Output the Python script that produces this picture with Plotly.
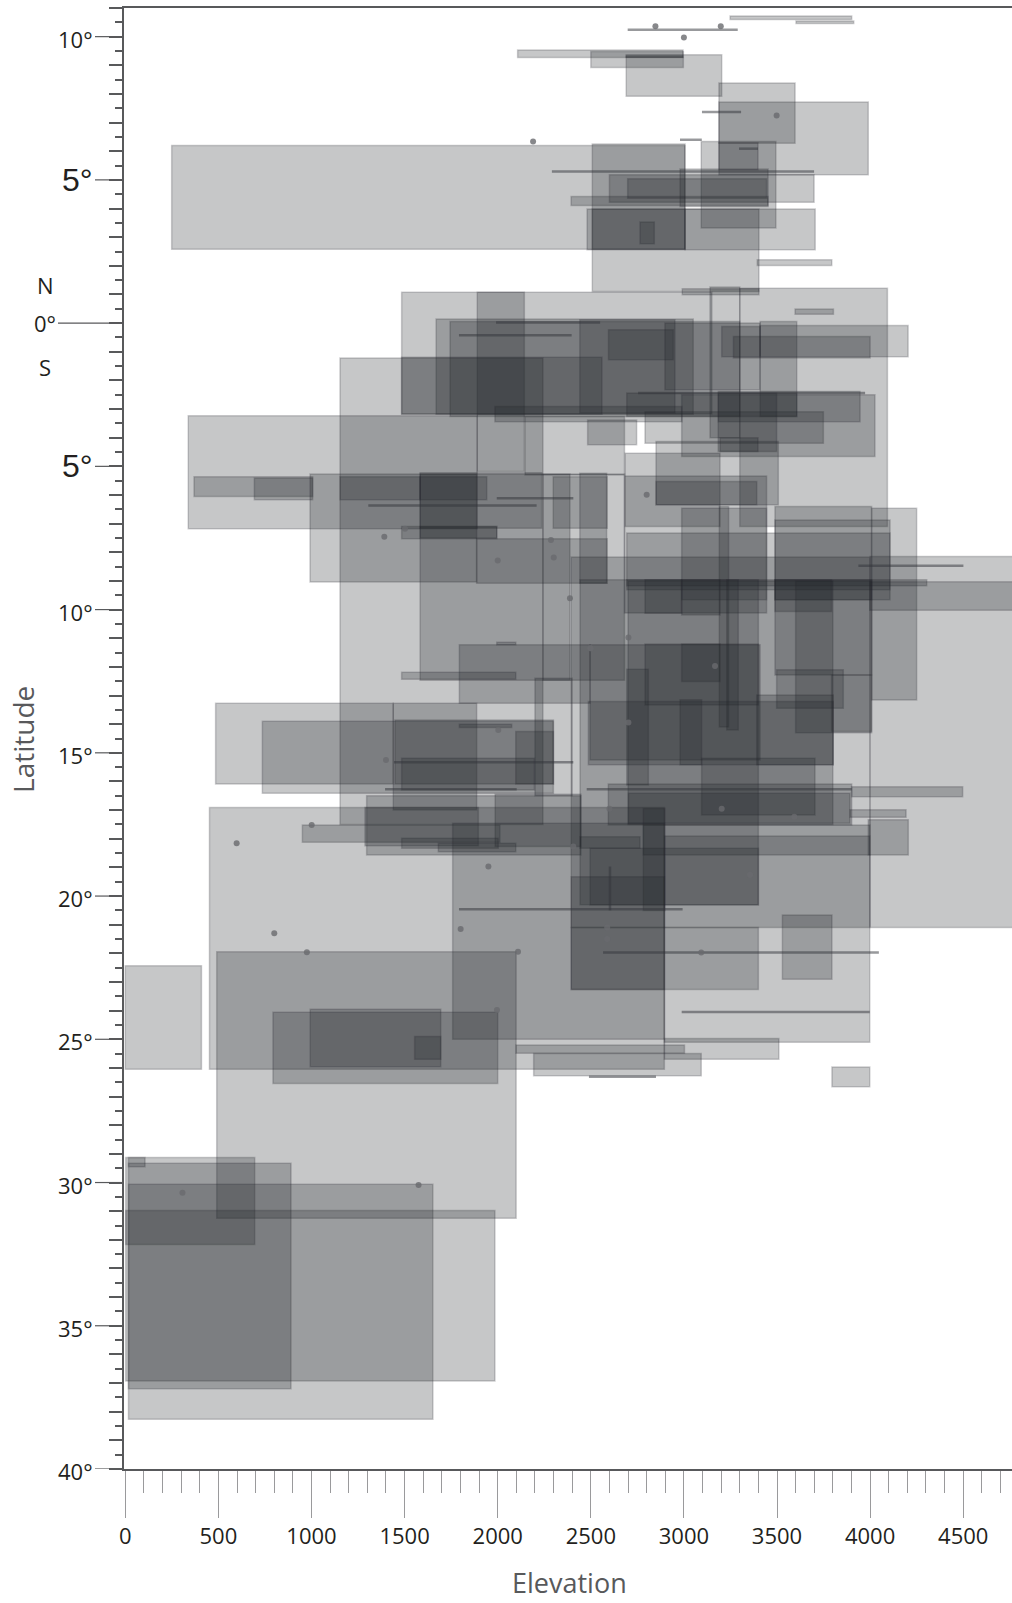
import plotly.graph_objects as go

# Elevation range (m) and latitude range (deg, north positive) of each record:
# (elev_min, elev_max, lat_north, lat_south)
north_ranges = [
    (3248, 3901, 10.72, 10.60), (3602, 3912, 10.55, 10.46),
    (2107, 2995, 9.53, 9.27), (2500, 2997, 9.48, 8.92), (2690, 3203, 9.37, 7.92),
    (3188, 3597, 8.38, 6.28), (3188, 3990, 7.72, 5.18),
    (249, 3006, 6.20, 2.58), (2508, 3006, 6.25, 2.58), (3093, 3494, 6.34, 3.32),
    (3188, 3398, 6.30, 5.35), (2600, 3699, 5.18, 4.22), (2698, 3444, 5.04, 4.36),
    (2979, 3452, 5.38, 4.07), (2394, 3452, 4.42, 4.11), (2480, 3006, 3.98, 2.56),
    (2764, 2841, 3.53, 2.77), (2508, 3403, 3.98, 1.10), (3006, 3705, 3.98, 2.56),
    (3394, 3794, 2.21, 2.01), (2991, 3403, 1.20, 0.99),
]

equator_ranges = [
    (1484, 3150, 1.08, -3.17), (3300, 4093, 1.22, -7.10), (3140, 3300, 1.26, -4.00),
    (1890, 2143, 1.08, -5.18), (1669, 3050, 0.14, -3.18), (1744, 3300, 0.06, -3.26),
    (3597, 3803, 0.49, 0.31), (2441, 2952, 0.12, -3.14), (2595, 2943, -0.23, -1.28),
    (2898, 3409, 0.00, -2.33), (3409, 3606, 0.06, -3.26), (3266, 4000, -0.47, -1.22),
    (3409, 4204, -0.08, -1.17), (3203, 3409, -0.12, -1.17), (1484, 2560, -1.19, -3.18),
    (1985, 2990, -2.91, -3.44), (2147, 2681, -3.26, -5.30), (2483, 2746, -3.38, -4.25),
    (2791, 3749, -3.09, -4.19), (2988, 4026, -2.50, -4.66), (3185, 3946, -2.39, -3.44),
    (2693, 3606, -2.44, -3.26), (3184, 3498, -2.44, -4.48), (3194, 3398, -4.00, -4.48),
]

central_ranges = [
    (1153, 2243, -1.22, -17.50), (338, 1890, -3.23, -7.18), (369, 1006, -5.36, -6.05),
    (693, 1006, -5.41, -6.17), (1583, 2236, -5.22, -7.16), (1153, 1583, -5.36, -6.17),
    (1583, 1941, -5.36, -6.17), (2298, 2588, -5.36, -7.16), (1484, 1995, -7.10, -7.53),
    (1583, 1995, -7.10, -7.50), (1887, 2588, -7.53, -9.08), (992, 1887, -5.27, -9.04),
    (1583, 2681, -5.27, -12.47), (2243, 2388, -5.27, -12.47), (2681, 3444, -5.34, -10.12),
    (2200, 2400, -12.40, -16.50),
    (2684, 3194, -4.54, -7.10), (2850, 3507, -4.13, -6.34), (2850, 3391, -5.53, -6.34),
    (2441, 2585, -5.24, -9.08), (2988, 3444, -6.46, -9.66), (3489, 4008, -6.40, -9.66),
    (4008, 4250, -6.46, -13.16), (3489, 4107, -6.87, -9.66), (2693, 4107, -7.33, -9.31),
    (2693, 4304, -8.96, -9.17), (4000, 4800, -8.15, -21.10), (3998, 4800, -9.03, -10.02),
    (3190, 3240, -6.40, -14.10), (2395, 3998, -8.16, -21.10), (2700, 3800, -9.00, -17.50),
    (2442, 3400, -8.96, -20.30), (3600, 4008, -9.00, -14.30),
    (1794, 2496, -11.23, -13.27), (1484, 2097, -12.19, -12.43), (1995, 2097, -11.14, -11.23),
    (485, 1439, -13.27, -16.09), (736, 2299, -13.90, -16.41), (1439, 1887, -13.27, -17.00),
    (1448, 2299, -13.85, -16.09), (1794, 2075, -14.00, -14.12), (1484, 2197, -15.19, -16.30),
    (2097, 2299, -14.26, -16.09), (1296, 2447, -16.50, -18.57), (1287, 1896, -16.91, -18.24),
    (1986, 2447, -16.45, -18.27), (951, 2012, -17.52, -18.12), (1484, 2003, -17.98, -18.33),
    (1681, 2097, -18.16, -18.45),
    (3489, 4008, -8.96, -12.28), (3489, 3793, -8.96, -10.07), (3498, 3856, -12.10, -13.44),
    (3793, 4008, -12.28, -14.26), (3391, 3802, -12.98, -15.42), (3095, 3704, -15.19, -17.17),
    (2979, 3095, -13.15, -15.42), (3230, 3292, -8.96, -14.20), (2988, 3194, -8.96, -10.19),
    (2791, 2988, -8.96, -10.13), (2791, 3400, -11.20, -13.33), (2988, 3194, -11.20, -12.51),
    (2693, 2809, -12.08, -16.12), (2496, 3409, -11.23, -15.25), (2487, 3802, -13.21, -15.42),
    (3901, 4497, -16.18, -16.53), (2594, 3901, -16.09, -17.52), (2702, 3892, -16.41, -17.46),
    (3892, 4193, -16.99, -17.25), (3990, 4205, -17.34, -18.57), (2782, 3999, -17.52, -18.57),
    (2782, 2898, -16.94, -20.50), (2496, 3400, -18.33, -20.31), (2895, 3998, -17.90, -25.10),
    (2442, 2764, -17.93, -18.33),
]

southern_ranges = [
    (452, 2895, -16.91, -26.05), (1758, 2895, -17.46, -25.00),
    (2395, 2895, -19.33, -23.26), (2395, 3400, -21.10, -23.26), (3529, 3795, -20.66, -22.90),
    (3795, 3998, -25.97, -26.66), (2895, 3510, -24.97, -25.70), (2193, 3093, -25.50, -26.27),
    (2098, 3003, -25.20, -25.49),
    (0, 409, -22.43, -26.05), (491, 2099, -21.94, -31.25), (793, 2000, -24.06, -26.54),
    (993, 1694, -23.95, -25.96), (1554, 1694, -24.90, -25.70),
    (2, 695, -29.13, -32.16), (17, 890, -29.33, -37.20), (17, 1652, -30.06, -38.26),
    (2, 1985, -30.98, -36.93), (17, 106, -29.13, -29.45),
]

# Records with an elevation range at a single latitude: (elev_min, elev_max, lat)
band_records = [
    (2698, 3289, 10.24), (3097, 3307, 7.37), (2979, 3096, 6.40), (2291, 3699, 5.29),
    (3296, 3398, 6.09), (2687, 2997, 9.30),
    (2754, 3973, -2.44), (1792, 2397, -0.42), (1991, 2550, 0.02),
    (3937, 4501, -8.47), (1305, 2209, -6.37), (1995, 2406, -6.11),
    (1443, 2406, -15.33), (1395, 2102, -16.27), (2478, 3901, -16.27),
    (2566, 4047, -21.97), (1792, 2993, -20.46), (2988, 3998, -24.05), (2490, 2850, -26.31),
]

# Records with a latitude range at a single elevation: (elev, lat_north, lat_south)
column_records = [
    (2603, -18.97, -20.50),
]

# Single-point records: elevation (m), latitude (deg)
point_elev = [2847, 3198, 3000, 3498, 2190, 2800, 1391, 1502, 2000, 2286, 2301, 2388,
              2003, 1400, 1001, 598, 1950, 2496, 2406, 2499, 2702, 3167, 2702, 2600,
              3203, 3593, 3355, 2588, 2588, 3093, 307, 1575, 800, 975, 1801, 2109, 1996]
point_lat = [10.36, 10.36, 9.97, 7.25, 6.34, -5.99, -7.46, -7.18, -8.29, -7.57, -8.18, -9.60,
             -14.20, -15.25, -17.52, -18.16, -18.97, -11.35, -18.27, -11.35, -10.97, -11.97,
             -13.94, -16.95, -16.95, -17.23, -19.26, -21.10, -21.50, -21.97, -30.36, -30.09,
             -21.30, -21.96, -21.15, -21.94, -23.98]

# Axis ticks and labels
x_major = list(range(0, 5000, 500))
y_labels = {10: "10°", 5: "5°", 0: "0°", -5: "5°", -10: "10°", -15: "15°", -20: "20°",
            -25: "25°", -30: "30°", -35: "35°", -40: "40°"}

FILL = "rgba(36,38,44,0.26)"
EDGE = "rgba(36,38,44,0.22)"
BAND = "rgba(50,52,58,0.5)"
FONT = "Open Sans, Noto Sans, sans-serif"
NARROW = "Liberation Sans, Arial, sans-serif"

PLOT_W = 888  # pixel width of the plotting area
PLOT_H = 1461  # pixel height of the plotting area

shapes = []
for group in (north_ranges, equator_ranges, central_ranges, southern_ranges):
    for e0, e1, la, lb in group:
        shapes.append(dict(type="rect", xref="x", yref="y", x0=e0, x1=e1, y0=lb, y1=la,
                           fillcolor=FILL, line=dict(color=EDGE, width=1.5), layer="below"))
for e0, e1, la in band_records:
    shapes.append(dict(type="line", xref="x", yref="y", x0=e0, x1=e1, y0=la, y1=la,
                       line=dict(color=BAND, width=2.5), layer="below"))
for e, la, lb in column_records:
    shapes.append(dict(type="line", xref="x", yref="y", x0=e, x1=e, y0=lb, y1=la,
                       line=dict(color=BAND, width=2.5), layer="below"))

# Longer latitude ticks that lead to the labelled degrees
for v in y_labels:
    lead = 66 if v == 0 else 29
    shapes.append(dict(type="line", xref="paper", yref="y", x0=-lead / PLOT_W, x1=0,
                       y0=v, y1=v, line=dict(color="#58595b", width=1.2)))

annotations = []
for v, txt in y_labels.items():
    if v == 0:
        annotations.append(dict(x=-66 / PLOT_W, y=v, xref="paper", yref="y", text=txt,
                                showarrow=False, xanchor="right", yanchor="middle",
                                font=dict(family=FONT, size=22, color="#231f20")))
    elif abs(v) == 5:
        annotations.append(dict(x=-29 / PLOT_W, y=v, xref="paper", yref="y", text=txt,
                                showarrow=False, xanchor="right", yanchor="middle",
                                font=dict(family=NARROW, size=32, color="#231f20")))
    else:
        annotations.append(dict(x=-29 / PLOT_W, y=v, xref="paper", yref="y", text=txt,
                                showarrow=False, xanchor="right", yanchor="middle",
                                yshift=-2, font=dict(family=FONT, size=22, color="#231f20")))
for txt, v in (("N", 1.34), ("S", -1.52)):
    annotations.append(dict(x=-79 / PLOT_W, y=v, xref="paper", yref="y", text=txt,
                            showarrow=False, xanchor="center", yanchor="middle",
                            font=dict(family=FONT, size=22, color="#231f20")))
annotations.append(dict(x=-101 / PLOT_W, y=-14.55, xref="paper", yref="y", text="Latitude",
                        showarrow=False, textangle=-90, xanchor="center", yanchor="middle",
                        font=dict(family=FONT, size=28, color="#58595b")))
annotations.append(dict(x=2388, y=-113 / PLOT_H, xref="x", yref="paper", text="Elevation",
                        showarrow=False, xanchor="center", yanchor="middle",
                        font=dict(family=FONT, size=27, color="#58595b")))

fig = go.Figure()
fig.add_trace(go.Scatter(x=point_elev, y=point_lat, mode="markers", hoverinfo="skip",
                         marker=dict(size=6, color="rgba(105,106,110,0.8)", line=dict(width=0)),
                         showlegend=False, cliponaxis=True))

fig.update_layout(
    width=1012, height=1603,
    margin=dict(l=124, r=0, t=8, b=134, pad=0),
    paper_bgcolor="white", plot_bgcolor="white",
    shapes=shapes, annotations=annotations, showlegend=False,
    xaxis=dict(range=[-7, 4762], showgrid=False, zeroline=False,
               showline=True, linecolor="#58595b", linewidth=2, mirror=True,
               ticks="outside", tickmode="array", tickvals=x_major,
               ticklen=47, tickwidth=1, tickcolor="#9a9a9c",
               tickfont=dict(family=FONT, size=22, color="#231f20"),
               minor=dict(dtick=100, tick0=0, ticks="outside", ticklen=22,
                          tickwidth=1, tickcolor="#9a9a9c", showgrid=False)),
    yaxis=dict(range=[-40, 11.0], showgrid=False, zeroline=False,
               showline=True, linecolor="#58595b", linewidth=2,
               ticks="outside", tickmode="array", tickvals=list(range(-40, 12)),
               ticklen=13, tickwidth=1.5, tickcolor="#58595b", showticklabels=False,
               minor=dict(dtick=0.5, tick0=0, ticks="outside", ticklen=7,
                          tickwidth=1.5, tickcolor="#58595b", showgrid=False)),
)

fig.write_html("out.html")
